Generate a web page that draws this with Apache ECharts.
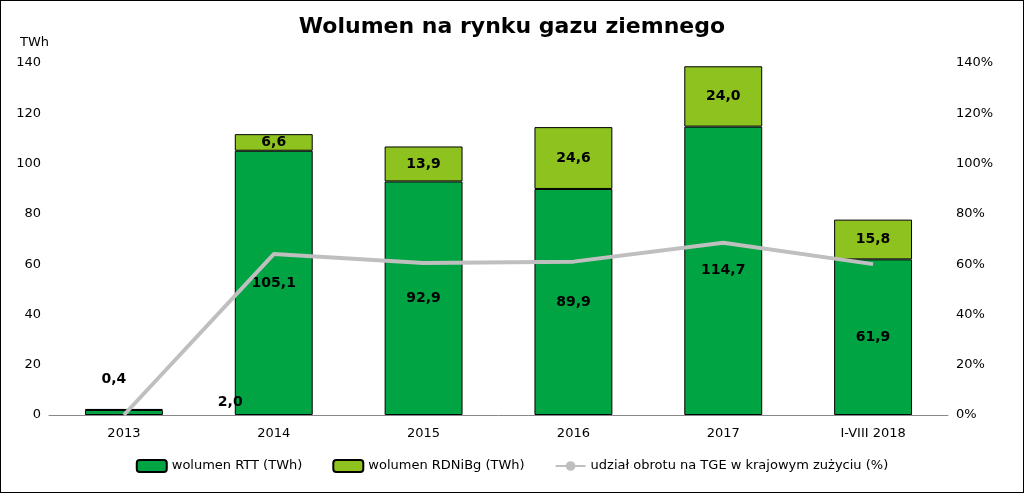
<!DOCTYPE html>
<html>
<head>
<meta charset="utf-8">
<script src="https://cdn.jsdelivr.net/npm/echarts@6/dist/echarts.min.js"></script>
<style>
  html, body { margin: 0; padding: 0; background: #fff; }
  #chart { width: 1022px; height: 491px; border: 1px solid #000; }
</style>
</head>
<body>
<div id="chart"></div>
<script>
const categories = ['2013', '2014', '2015', '2016', '2017', 'I-VIII 2018']
const rttValues = [2.0, 105.1, 92.9, 89.9, 114.7, 61.9]
const rdnValues = [0.4, 6.6, 13.9, 24.6, 24.0, 15.8]
const shareValues = [0, 64, 60.5, 61, 68.5, 60]

const fmt = v => v.toFixed(1).replace('.', ',')
const font = 'Verdana, "DejaVu Sans", sans-serif'

const chart = echarts.init(document.getElementById('chart'))

chart.setOption({
  animation: false,
  textStyle: { fontFamily: font },
  title: {
    text: 'Wolumen na rynku gazu ziemnego',
    left: 'center',
    top: 10,
    textStyle: { fontSize: 22, fontWeight: 'bold', color: '#000', fontFamily: font }
  },
  grid: { left: 48, right: 75, top: 62, bottom: 77 },
  legend: {
    bottom: 14,
    left: 'center',
    itemGap: 30,
    itemWidth: 30,
    itemHeight: 12,
    textStyle: { fontSize: 13, color: '#000' },
    data: ['wolumen RTT (TWh)', 'wolumen RDNiBg (TWh)', 'udział obrotu na TGE w krajowym zużyciu (%)']
  },
  xAxis: {
    type: 'category',
    data: categories,
    axisLine: { lineStyle: { color: '#888' } },
    axisTick: { show: false },
    axisLabel: { color: '#000', fontSize: 13, margin: 12 }
  },
  yAxis: [
    {
      type: 'value', min: 0, max: 140, interval: 20,
      name: 'TWh', nameLocation: 'end', nameGap: 14,
      nameTextStyle: { color: '#000', fontSize: 13, align: 'right', padding: [0, 0, 0, 0] },
      axisLabel: { color: '#000', fontSize: 13 },
      splitLine: { show: false },
      axisLine: { show: false }
    },
    {
      type: 'value', min: 0, max: 140, interval: 20,
      axisLabel: { color: '#000', fontSize: 13, formatter: '{value}%' },
      splitLine: { show: false },
      axisLine: { show: false }
    }
  ],
  series: [
    {
      name: 'wolumen RTT (TWh)',
      type: 'bar', stack: 'v', barWidth: '52%',
      itemStyle: { color: '#00A443', borderColor: '#000', borderWidth: 1 },
      data: rttValues.map((v, i) => i === 0
        ? { value: v, label: { show: true, position: 'right', offset: [50, -10] } }
        : v),
      label: {
        show: true, position: 'inside', color: '#000', fontWeight: 'bold', fontSize: 14,
        formatter: p => fmt(p.value)
      }
    },
    {
      name: 'wolumen RDNiBg (TWh)',
      type: 'bar', stack: 'v', barWidth: '52%',
      itemStyle: { color: '#8DC21F', borderColor: '#000', borderWidth: 1 },
      data: rdnValues.map((v, i) => i === 0
        ? { value: v, label: { show: true, position: 'top', offset: [-10, -18] } }
        : v),
      label: {
        show: true, position: 'inside', color: '#000', fontWeight: 'bold', fontSize: 14,
        formatter: p => fmt(p.value)
      }
    },
    {
      name: 'udział obrotu na TGE w krajowym zużyciu (%)',
      type: 'line', yAxisIndex: 1,
      data: shareValues,
      symbol: 'none',
      lineStyle: { color: '#BFBFBF', width: 4 },
      itemStyle: { color: '#BFBFBF' },
      z: 5
    }
  ]
})
</script>
</body>
</html>
